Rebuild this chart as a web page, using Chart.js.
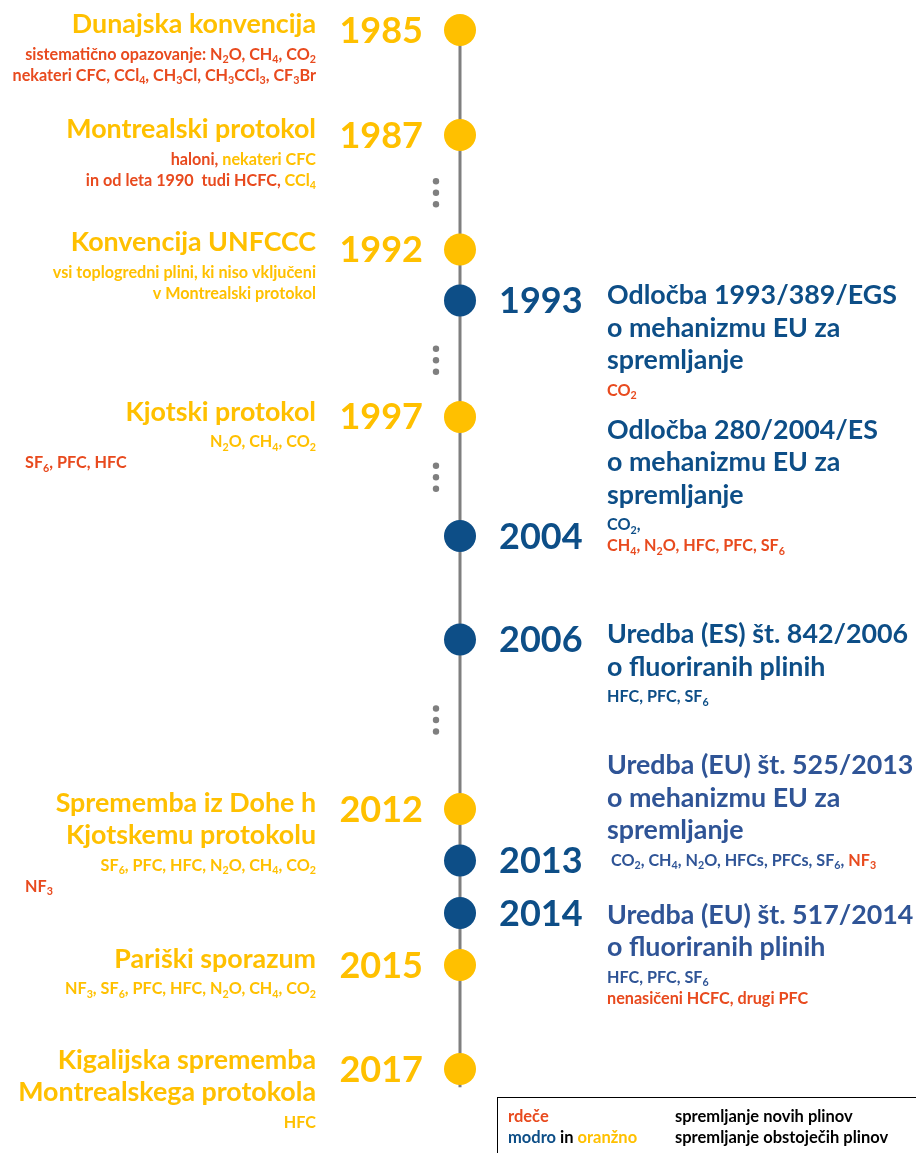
<!DOCTYPE html>
<html><head><meta charset="utf-8">
<script src="https://cdn.jsdelivr.net/npm/chart.js@4"></script>
<style>html,body{margin:0;padding:0;background:#fff}#wrap{width:916px;height:1153px;position:relative}canvas{display:block}</style>
</head><body><div id="wrap"><canvas id="c" width="916" height="1153"></canvas></div>
<script>
// ---------- DATA ----------
const years  = ['1985','1987','1992','1993','1997','2004','2006','2012','2013','2014','2015','2017'];
// position of each event along the (compressed) timeline, in timeline rows
const rows   = [0, 2.02, 4.22, 5.20, 7.44, 9.73, 11.72, 14.98, 15.97, 16.98, 17.98, 19.98];
const bodies = ['intl','intl','intl','eu','intl','eu','eu','intl','eu','eu','intl','intl'];
const titles = [
  ['Dunajska konvencija'],
  ['Montrealski protokol'],
  ['Konvencija UNFCCC'],
  ['Odločba 1993/389/EGS','o mehanizmu EU za','spremljanje'],
  ['Kjotski protokol'],
  ['Odločba 280/2004/ES','o mehanizmu EU za','spremljanje'],
  ['Uredba (ES) št. 842/2006','o fluoriranih plinih'],
  ['Sprememba iz Dohe h','Kjotskemu protokolu'],
  ['{B}Uredba (EU) št. 525/2013','{B}o mehanizmu EU za','{B}spremljanje'],
  ['{B}Uredba (EU) št. 517/2014','{B}o fluoriranih plinih'],
  ['Pariški sporazum'],
  ['Kigalijska sprememba','Montrealskega protokola']
];
// gases; {r}=new (red), {o}/{b}/{B}=existing; leading '<' = note at the far left margin
const gases = [
  ['{r}sistematično opazovanje: N_2O, CH_4, CO_2','{r}nekateri CFC, CCl_4, CH_3Cl, CH_3CCl_3, CF_3Br'],
  ['{r}haloni,{o} nekateri CFC','{r}in od leta 1990  tudi HCFC,{o} CCl_4'],
  ['{o}vsi toplogredni plini, ki niso vključeni','{o}v Montrealski protokol'],
  ['{r}CO_2'],
  ['{o}N_2O, CH_4, CO_2','<{r}SF_6, PFC, HFC'],
  ['{b}CO_2,','{r}CH_4, N_2O, HFC, PFC, SF_6'],
  ['{b}HFC, PFC, SF_6'],
  ['{o}SF_6, PFC, HFC, N_2O, CH_4, CO_2','<{r}NF_3'],
  ['{B} CO_2, CH_4, N_2O, HFCs, PFCs, SF_6,{r} NF_3'],
  ['{B}HFC, PFC, SF_6','{r}nenasičeni HCFC, drugi PFC'],
  ['{o}NF_3, SF_6, PFC, HFC, N_2O, CH_4, CO_2'],
  ['{o}HFC']
];
// skipped years shown as vertical ellipses (timeline rows)
const gapRows = [3.13, 6.35, 8.6, 13.27];
const legendKeys  = ['{r}rdeče', '{b}modro{k} in {o}oranžno'];
const legendTexts = ['spremljanje novih plinov', 'spremljanje obstoječih plinov'];

// ---------- STYLE / LAYOUT ----------
const COLORS = { r:'#E84A1E', o:'#FFC000', b:'#0D4E87', B:'#2F5496', k:'#000000' };
const LINE_COLOR = '#7F7F7F';
const FONT = 'Lato, "Open Sans", sans-serif';
const ROW_PX = 52, TOP_PX = 30, H = 1153;
// first-title baseline offset relative to the event marker (px)
const titleShift = [3, 3, 2, 4, 4, -97, 4, 3, -86, 11, 3, 0];
const TITLE_SIZE = 26.8, YEAR_SIZE = 36, GAS_SIZE = 16.2;
const TITLE_LH = 32.5, GAS_GAP = 26.5, GAS_LH = 21;

function runs(str, def) {
  const out = []; let color = def, i = 0;
  while (i < str.length) {
    const ch = str[i];
    if (ch === '{') { const j = str.indexOf('}', i); color = COLORS[str.slice(i+1, j)]; i = j+1; continue; }
    if (ch === '_') { out.push({t: str[i+1], c: color, sub: true}); i += 2; continue; }
    const last = out[out.length-1];
    if (last && !last.sub && last.c === color) last.t += ch; else out.push({t: ch, c: color, sub: false});
    i++;
  }
  return out;
}
function drawRich(ctx, str, x, y, size, align, def) {
  const rs = runs(str, def);
  let total = 0;
  rs.forEach(r => { ctx.font = `bold ${r.sub ? size*0.66 : size}px ${FONT}`; r.w = ctx.measureText(r.t).width; total += r.w; });
  let cx = align === 'right' ? x - total : x;
  ctx.textAlign = 'left'; ctx.textBaseline = 'alphabetic';
  rs.forEach(r => {
    ctx.font = `bold ${r.sub ? size*0.66 : size}px ${FONT}`;
    ctx.fillStyle = r.c;
    ctx.fillText(r.t, cx, y + (r.sub ? size*0.2 : 0));
    cx += r.w;
  });
}

const textPlugin = {
  id: 'timelineText',
  afterDatasetsDraw(chart) {
    const ctx = chart.ctx, xs = chart.scales.x, ys = chart.scales.y;
    const lx = xs.getPixelForValue(0);
    ctx.save();
    // ellipses for skipped years
    ctx.fillStyle = LINE_COLOR;
    gapRows.forEach(g => {
      const gy = ys.getPixelForValue(g);
      [-11.5, 0, 11.5].forEach(d => { ctx.beginPath(); ctx.arc(lx - 24, gy + d, 3.2, 0, Math.PI*2); ctx.fill(); });
    });
    years.forEach((yr, i) => {
      const cy = ys.getPixelForValue(rows[i]);
      const left = bodies[i] === 'intl';
      const main = left ? COLORS.o : COLORS.b;
      // year
      ctx.font = `bold ${YEAR_SIZE}px ${FONT}`;
      ctx.fillStyle = main; ctx.textBaseline = 'middle';
      ctx.textAlign = left ? 'right' : 'left';
      ctx.fillText(yr, left ? lx - 37 : lx + 39, cy + 1);
      // titles and gases
      const align = left ? 'right' : 'left';
      const tx = left ? lx - 144 : lx + 147;
      let by = cy + titleShift[i];
      titles[i].forEach((t, k) => { drawRich(ctx, t, tx, by + k*TITLE_LH, TITLE_SIZE, align, main); });
      by += (titles[i].length - 1) * TITLE_LH + GAS_GAP;
      gases[i].forEach((g, k) => {
        if (g[0] === '<') drawRich(ctx, g.slice(1), 25, by + k*GAS_LH, GAS_SIZE, 'left', main);
        else drawRich(ctx, g, tx, by + k*GAS_LH, GAS_SIZE, align, main);
      });
    });
    // legend box
    ctx.strokeStyle = '#000'; ctx.lineWidth = 1;
    ctx.strokeRect(497.5, 1097.5, 440, 70);
    legendKeys.forEach((k, i) => {
      drawRich(ctx, k, 508, 1122 + i*21, 16.5, 'left', COLORS.k);
      drawRich(ctx, legendTexts[i], 675, 1122 + i*21, 16.5, 'left', COLORS.k);
    });
    ctx.restore();
  }
};

const yMin = -TOP_PX / ROW_PX, yMax = yMin + H / ROW_PX;
new Chart(document.getElementById('c'), {
  type: 'scatter',
  data: { datasets: [
    { data: rows.map(r => ({x: 0, y: r})), order: 1,
      pointRadius: 16, pointHoverRadius: 16, borderWidth: 0,
      pointBackgroundColor: bodies.map(b => b === 'intl' ? COLORS.o : COLORS.b),
      pointBorderColor: 'rgba(0,0,0,0)' },
    { data: [{x: 0, y: rows[0]}, {x: 0, y: rows[rows.length-1] + 0.35}], order: 2,
      showLine: true, borderColor: LINE_COLOR, borderWidth: 3, pointRadius: 0 }
  ]},
  options: {
    responsive: false, animation: false, events: [],
    layout: { autoPadding: false, padding: { left: 4, right: 0, top: 0, bottom: 0 } },
    scales: {
      x: { type: 'linear', min: -1, max: 1, display: false },
      y: { type: 'linear', min: yMin, max: yMax, reverse: true, display: false }
    },
    plugins: { legend: { display: false }, tooltip: { enabled: false } }
  },
  plugins: [textPlugin]
});
</script></body></html>
